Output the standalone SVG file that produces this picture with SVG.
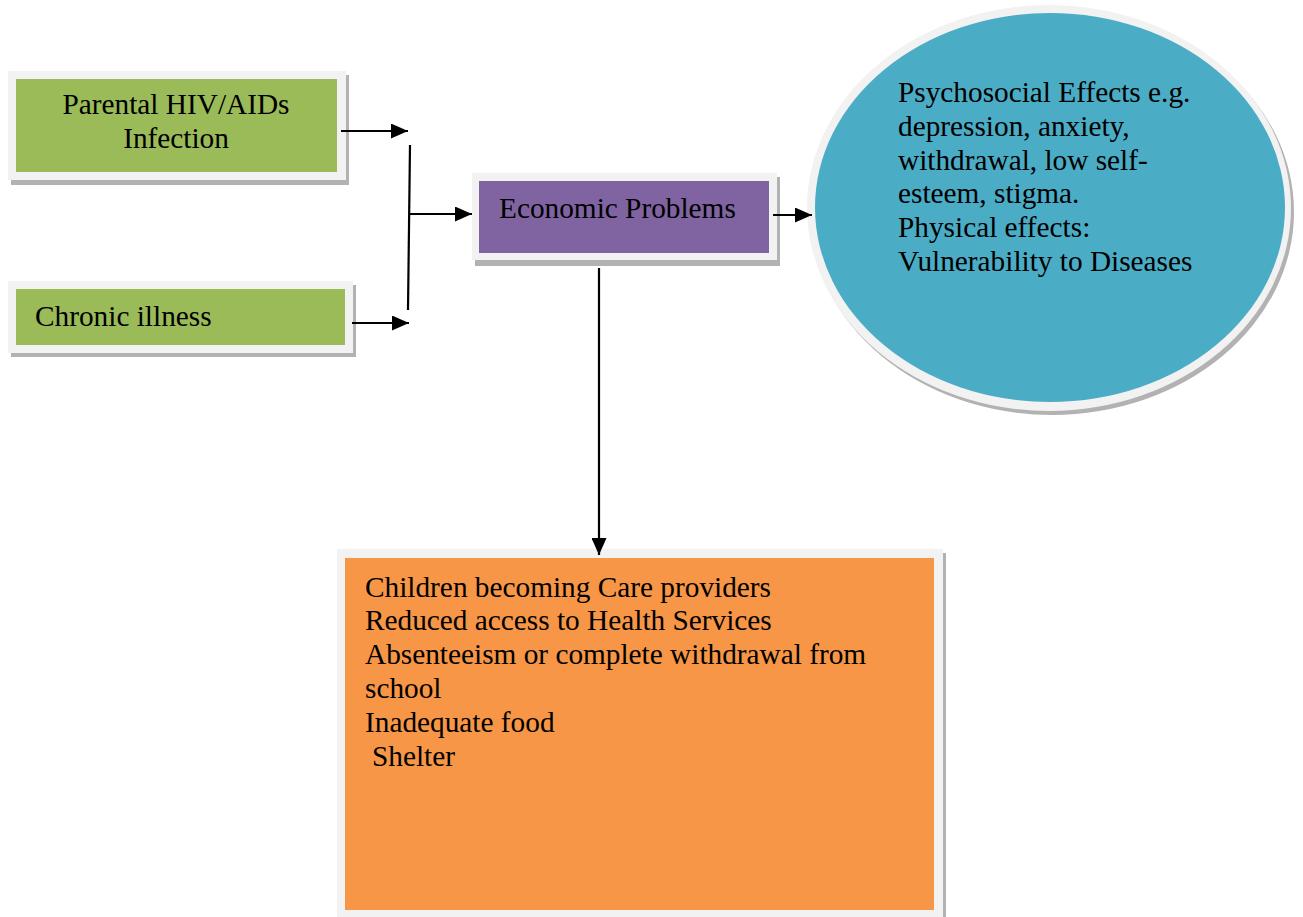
<svg xmlns="http://www.w3.org/2000/svg" width="1303" height="917" viewBox="0 0 1303 917">
<style>
  text { font-family: "Liberation Serif", "Times New Roman", serif; font-size: 29.3px; fill: #000; }
  .frame { fill: #F2F2F2; }
  .shadow { fill: #000; fill-opacity: 0.3; }
  .conn { stroke: #000; stroke-width: 2.2; fill: none; }
</style>
<defs>
  <marker id="arr" markerUnits="userSpaceOnUse" markerWidth="17" markerHeight="15" refX="17" refY="7.5" orient="auto">
    <path d="M0,0 L17,7.5 L0,15 Z" fill="#000"/>
  </marker>
</defs>

<g id="node-parental">
  <rect class="shadow" x="11" y="75" width="338" height="110"/>
  <rect class="frame" x="8" y="71" width="338" height="109"/>
  <rect x="16" y="79" width="321" height="93" fill="#9BBB59"/>
  <text x="176" y="114" text-anchor="middle">Parental HIV/AIDs</text>
  <text x="176" y="148" text-anchor="middle">Infection</text>
</g>

<g id="node-chronic">
  <rect class="shadow" x="11" y="285" width="345" height="72"/>
  <rect class="frame" x="8" y="281" width="345" height="72"/>
  <rect x="16" y="289" width="329" height="56" fill="#9BBB59"/>
  <text x="35" y="326">Chronic illness</text>
</g>

<g id="node-economic">
  <rect class="shadow" x="475" y="177" width="305" height="89"/>
  <rect class="frame" x="472" y="173" width="305" height="87"/>
  <rect x="479" y="181" width="290" height="72" fill="#8064A2"/>
  <text x="499" y="218">Economic Problems</text>
</g>

<g id="node-effects">
  <ellipse class="shadow" cx="1052" cy="212" rx="242" ry="203"/>
  <ellipse class="frame" cx="1049" cy="208" rx="242" ry="203"/>
  <ellipse cx="1050" cy="207.5" rx="235" ry="194.5" fill="#4BACC6"/>
  <text x="898" y="102">Psychosocial Effects e.g.</text>
  <text x="898" y="136">depression, anxiety,</text>
  <text x="898" y="170">withdrawal, low self-</text>
  <text x="898" y="203">esteem, stigma.</text>
  <text x="898" y="237">Physical effects:</text>
  <text x="898" y="271">Vulnerability to Diseases</text>
</g>

<g id="node-consequences">
  <rect class="shadow" x="340" y="553" width="606" height="370"/>
  <rect class="frame" x="337" y="549" width="606" height="370"/>
  <rect x="345" y="558" width="589" height="352" fill="#F79646"/>
  <text x="365" y="597">Children becoming Care providers</text>
  <text x="365" y="630">Reduced access to Health Services</text>
  <text x="365" y="664">Absenteeism or complete withdrawal from</text>
  <text x="365" y="698">school</text>
  <text x="365" y="732">Inadequate food</text>
  <text x="372" y="766">Shelter</text>
</g>

<g id="connectors">
  <line class="conn" x1="341" y1="131" x2="408" y2="131" marker-end="url(#arr)"/>
  <line class="conn" x1="352" y1="323" x2="409" y2="323" marker-end="url(#arr)"/>
  <line class="conn" x1="410" y1="145" x2="408" y2="310"/>
  <line class="conn" x1="409" y1="214" x2="472" y2="214" marker-end="url(#arr)"/>
  <line class="conn" x1="773" y1="215" x2="812" y2="215" marker-end="url(#arr)"/>
  <line class="conn" x1="599" y1="268" x2="599" y2="555" marker-end="url(#arr)"/>
</g>
</svg>
